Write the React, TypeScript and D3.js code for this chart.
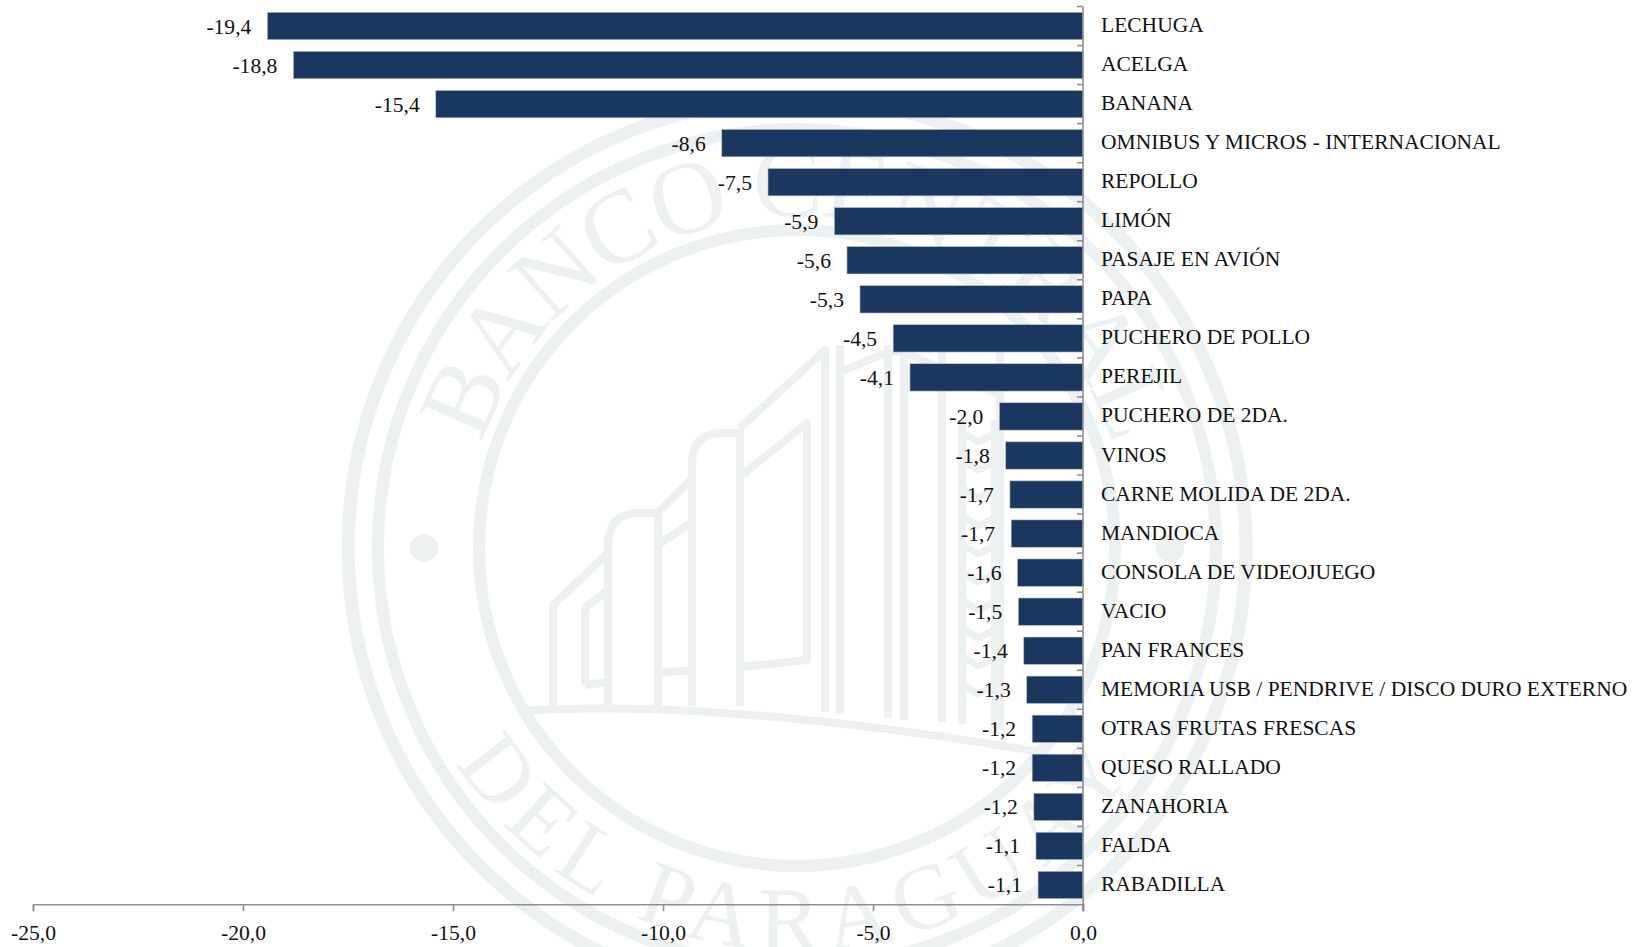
import React, { useEffect, useRef } from "react";
import * as d3 from "d3";

const categories = [
  "LECHUGA", "ACELGA", "BANANA", "OMNIBUS Y MICROS - INTERNACIONAL", "REPOLLO", "LIMÓN",
  "PASAJE EN AVIÓN", "PAPA", "PUCHERO DE POLLO", "PEREJIL", "PUCHERO DE 2DA.", "VINOS",
  "CARNE MOLIDA DE 2DA.", "MANDIOCA", "CONSOLA DE VIDEOJUEGO", "VACIO", "PAN FRANCES",
  "MEMORIA USB / PENDRIVE / DISCO DURO EXTERNO", "OTRAS FRUTAS FRESCAS", "QUESO RALLADO",
  "ZANAHORIA", "FALDA", "RABADILLA",
];
const values = [
  -19.42, -18.8, -15.41, -8.6, -7.5, -5.92, -5.62, -5.31, -4.52, -4.12, -1.99, -1.84, -1.74,
  -1.71, -1.56, -1.54, -1.41, -1.34, -1.21, -1.21, -1.17, -1.12, -1.07,
];
const xTicks = [-25, -20, -15, -10, -5, 0];

const WIDTH = 1643;
const HEIGHT = 947;
const FONT = "'Liberation Serif', serif";
const MARK = "#edf1f2";
const BAR = "#19375f";
const AXIS = "#8f8f8f";

const x = d3.scaleLinear().domain([-25, 0]).range([33, 1083]);
const y = d3.scaleBand<string>().domain(categories).range([6.5, 904.5]).paddingInner(0.3).paddingOuter(0.15);
const fmt = (v: number) => v.toFixed(1).replace(".", ",");

const CX = 797;
const CY = 548;

function ringArc(r: number, a0: number, a1: number, ccw: boolean) {
  const p = d3.path();
  p.arc(CX, CY, r, a0, a1, ccw);
  return p.toString();
}

const buildingLines = [
  "M553 708V605L608 553",
  "M585 685V608L608 590M585 685L608 682",
  "M608 706V545Q608 513 640 513H658V706",
  "M658 512L692 479",
  "M658 545L692 522M658 673L692 670",
  "M692 706V465Q692 433 722 433H740V706",
  "M740 428L825 350V712",
  "M742 475L807 423V660L742 667",
  "M840 345V714",
  "M888 345V718M904 345V720",
  "M942 340V722",
  "M1000 340V730",
  "M840 372L888 352L904 352L1000 395",
  "M962 420V724M995 420V728",
];
const chevrons = [432, 460, 488, 516, 544, 572, 600, 628, 656, 684];

function Watermark() {
  return (
    <g fill="none" stroke={MARK}>
      <defs>
        <path id="wmTop" d={ringArc(332, Math.PI, 2 * Math.PI, false)} />
        <path id="wmBottom" d={ringArc(403, Math.PI, 0, true)} />
      </defs>
      <circle cx={CX} cy={CY} r={449} strokeWidth={13} />
      <circle cx={CX} cy={CY} r={419} strokeWidth={12} />
      <circle cx={CX} cy={CY} r={318} strokeWidth={12} />
      <circle cx={424} cy={CY} r={14} fill={MARK} stroke="none" />
      <circle cx={1170} cy={CY} r={14} fill={MARK} stroke="none" />
      <text fontFamily={FONT} fontSize={104} fill={MARK} stroke="none" textAnchor="middle" letterSpacing={-3}>
        <textPath href="#wmTop" startOffset="50%">BANCO CENTRAL</textPath>
      </text>
      <text fontFamily={FONT} fontSize={92} fill={MARK} stroke="none" textAnchor="middle" letterSpacing={10}>
        <textPath href="#wmBottom" startOffset="50%">DEL PARAGUAY</textPath>
      </text>
      {buildingLines.map((d, i) => (
        <path key={i} d={d} strokeWidth={8} strokeLinejoin="round" />
      ))}
      {chevrons.map((c) => (
        <path key={c} d={`M962 ${c}L978 ${c + 10}L995 ${c + 2}`} strokeWidth={7} />
      ))}
      <path d="M518 711Q720 698 1040 752" strokeWidth={8} />
    </g>
  );
}

export default function App() {
  const xAxisRef = useRef<SVGGElement>(null);
  const yAxisRef = useRef<SVGGElement>(null);

  useEffect(() => {
    const ax = d3.select(xAxisRef.current!);
    ax.call(d3.axisBottom(x).tickValues(xTicks).tickFormat((d) => fmt(+d)).tickSize(7).tickPadding(13) as any);
    ax.selectAll("path,line").attr("stroke", AXIS).attr("stroke-width", 1.6);
    ax.selectAll("text").attr("fill", "#111").attr("font-size", 21.6).attr("font-family", FONT);

    const step = y.step();
    const top = y(categories[0])! - (step - y.bandwidth()) / 2;
    const boundaries = categories.map((_, i) => top + i * step);
    const ay = d3.select(yAxisRef.current!);
    ay.append("line").attr("x1", x(0)).attr("x2", x(0)).attr("y1", boundaries[0]).attr("y2", 911);
    ay.selectAll("line.t").data(boundaries).join("line").attr("class", "t")
      .attr("x1", x(0) - 6).attr("x2", x(0)).attr("y1", (d) => d).attr("y2", (d) => d);
    ay.selectAll("line").attr("stroke", AXIS).attr("stroke-width", 1.6);
    return () => {
      ax.selectAll("*").remove();
      ay.selectAll("*").remove();
    };
  }, []);

  return (
    <svg width={WIDTH} height={HEIGHT} viewBox={`0 0 ${WIDTH} ${HEIGHT}`}
      style={{ position: "absolute", left: 0, top: 0, display: "block", background: "#fff" }}>
      <Watermark />
      <g>
        {categories.map((c, i) => (
          <rect key={c} x={x(values[i])} y={y(c)!} width={x(0) - x(values[i])} height={y.bandwidth()}
            fill={BAR} stroke="#b4bcc8" strokeWidth={0.6} />
        ))}
      </g>
      <g fontFamily={FONT} fill="#111">
        {categories.map((c, i) => (
          <text key={c} x={x(values[i]) - 16} y={y(c)! + y.bandwidth() / 2 + 7.5} textAnchor="end" fontSize={21.6}>{fmt(values[i])}</text>
        ))}
        {categories.map((c) => (
          <text key={c} x={1101} y={y(c)! + y.bandwidth() / 2 + 6} fontSize={21.5}>{c}</text>
        ))}
      </g>
      <g ref={xAxisRef} transform="translate(0,904.3)" />
      <g ref={yAxisRef} />
    </svg>
  );
}
